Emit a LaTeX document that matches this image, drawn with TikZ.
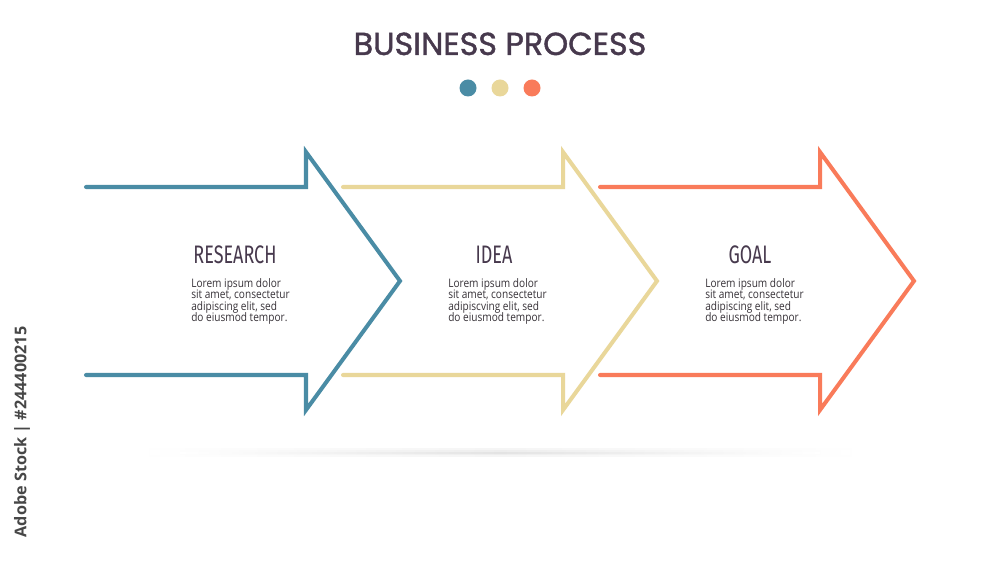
\documentclass[tikz,border=0pt]{standalone}
\usepackage{fontspec}
\usetikzlibrary{calc}
\newfontfamily\titlefont[FakeBold=1.3]{Poppins}
\newfontfamily\headfont[FakeStretch=0.71]{Fira Sans}
\newfontfamily\bodyfont[FakeStretch=0.86]{Open Sans}
\newfontfamily\stockfont{Open Sans}
\definecolor{stepblue}{RGB}{74,140,165}
\definecolor{stepsand}{RGB}{233,215,154}
\definecolor{steporange}{RGB}{249,123,90}
\definecolor{titleink}{RGB}{71,57,77}
\definecolor{bodyink}{RGB}{55,50,56}
\newcommand{\headsize}{\headfont\fontsize{18}{20}\selectfont}
\newcommand{\bodysize}{\bodyfont\fontsize{8.35}{8.2}\selectfont\lineskiplimit=-10pt}
\def\shaftlen{220}
\def\tiplen{314}
\def\shafthalf{94}
\def\headhalf{129}
\tikzset{
  steparrow/.style={line width=2.85pt, line cap=round, line join=miter},
  stephead/.style={anchor=base, text=titleink, inner sep=0, font=\headsize},
  stepbody/.style={anchor=north west, align=left, text=bodyink, inner sep=0, font=\bodysize}
}

\begin{document}
\begin{tikzpicture}[x=0.025cm,y=-0.025cm]

\fill[white] (0,0) rectangle (1000,563);
\useasboundingbox (0,0) rectangle (1000,563);

% TITLE
\node[anchor=base, text=titleink, inner sep=0, font=\titlefont\fontsize{22.6}{24}\selectfont] (title) at (500,55) {BUSINESS PROCESS};
\fill[stepblue] (468,88) circle (8.5);
\fill[stepsand] (500,88) circle (8.5);
\fill[steporange] (532,88) circle (8.5);

% SHADOW
\shade[left color=white, right color=white, middle color=black!4] (130,449) rectangle (870,457);
\shade[left color=white, right color=white, middle color=black!7] (150,451) rectangle (850,455);
\shade[left color=white, right color=white, middle color=black!11] (180,452.5) rectangle (820,453.5);

% RESEARCH
\coordinate (research) at (86,281);
\draw[steparrow, stepblue] ($(research)+(0,-\shafthalf)$) -- ++(\shaftlen,0) -- ($(research)+(\shaftlen,-\headhalf)$)
  -- ($(research)+(\tiplen,0)$) -- ($(research)+(\shaftlen,\headhalf)$) -- ($(research)+(\shaftlen,\shafthalf)$) -- ($(research)+(0,\shafthalf)$);
\node[stephead] (researchhead) at ($(research)+(149,-17)$) {RESEARCH};
\node[stepbody] (researchtext) at ($(research)+(105,-3)$)
  {Lorem ipsum dolor\\sit amet, consectetur\\adipiscing elit, sed\\do eiusmod tempor.};

% IDEA
\coordinate (idea) at (343,281);
\draw[steparrow, stepsand] ($(idea)+(0,-\shafthalf)$) -- ++(\shaftlen,0) -- ($(idea)+(\shaftlen,-\headhalf)$)
  -- ($(idea)+(\tiplen,0)$) -- ($(idea)+(\shaftlen,\headhalf)$) -- ($(idea)+(\shaftlen,\shafthalf)$) -- ($(idea)+(0,\shafthalf)$);
\node[stephead] (ideahead) at ($(idea)+(151,-17)$) {IDEA};
\node[stepbody] (ideatext) at ($(idea)+(105,-3)$)
  {Lorem ipsum dolor\\sit amet, consectetur\\adipiscving elit, sed\\do eiusmod tempor.};

% GOAL
\coordinate (goal) at (600,281);
\draw[steparrow, steporange] ($(goal)+(0,-\shafthalf)$) -- ++(\shaftlen,0) -- ($(goal)+(\shaftlen,-\headhalf)$)
  -- ($(goal)+(\tiplen,0)$) -- ($(goal)+(\shaftlen,\headhalf)$) -- ($(goal)+(\shaftlen,\shafthalf)$) -- ($(goal)+(0,\shafthalf)$);
\node[stephead] (goalhead) at ($(goal)+(150,-17)$) {GOAL};
\node[stepbody] (goaltext) at ($(goal)+(105,-3)$)
  {Lorem ipsum dolor\\sit amet, consectetur\\adipiscing elit, sed\\do eiusmod tempor.};

% STOCK LABEL
\node[rotate=90, text=black!72, inner sep=0, font=\stockfont\bfseries\fontsize{11.5}{13}\selectfont] (stock) at (22,432) {Adobe Stock | \#244400215};

\end{tikzpicture}
\end{document}
